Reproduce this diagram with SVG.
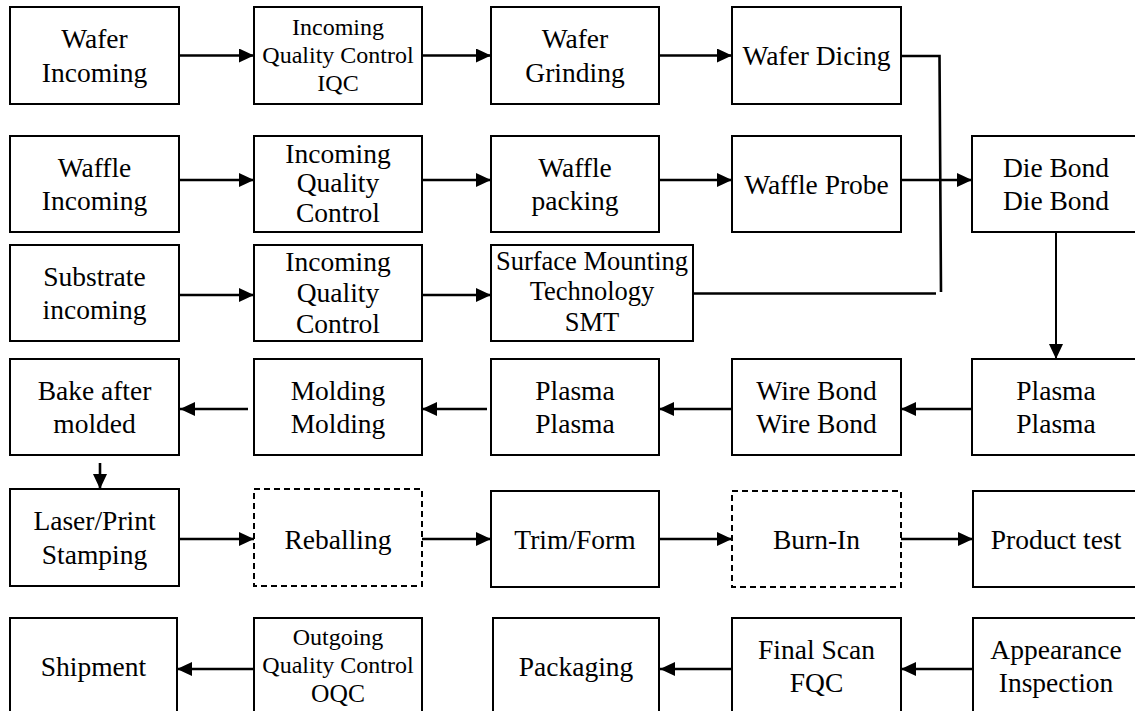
<svg xmlns="http://www.w3.org/2000/svg" width="1135" height="711" viewBox="0 0 1135 711">
  <style>
    .box { fill: #ffffff; stroke: #000000; stroke-width: 2; }
    .dash { stroke-dasharray: 6 4; }
    .lbl { font-family: "Liberation Serif", "Times New Roman", serif; font-size: 27.5px; fill: #000000; text-anchor: middle; }
    .sm { font-size: 24px; }
    .conn { fill: none; stroke: #000000; stroke-width: 2.6; }
    .thin { stroke-width: 2; }
  </style>
  <defs>
    <marker id="arrow" markerUnits="userSpaceOnUse" markerWidth="16" markerHeight="16" refX="15" refY="7" orient="auto">
      <path d="M0,0 L15,7 L0,14 Z" fill="#000000"/>
    </marker>
  </defs>
  <rect width="1135" height="711" fill="#ffffff"/>

  <!-- process steps -->
  <g id="wafer-incoming"><rect class="box" x="10" y="7" width="169" height="97"/><text class="lbl" x="94.5" y="48">Wafer</text><text class="lbl" x="94.5" y="81.5">Incoming</text></g>
  <g id="iqc-wafer"><rect class="box" x="254" y="7" width="168" height="97"/><text class="lbl sm" x="338" y="35">Incoming</text><text class="lbl sm" x="338" y="63.3">Quality Control</text><text class="lbl sm" x="338" y="90.7">IQC</text></g>
  <g id="wafer-grinding"><rect class="box" x="491" y="7" width="168" height="97"/><text class="lbl" x="575" y="48">Wafer</text><text class="lbl" x="575" y="81.5">Grinding</text></g>
  <g id="wafer-dicing"><rect class="box" x="732" y="7" width="169" height="97"/><text class="lbl" x="816.5" y="65">Wafer Dicing</text></g>

  <g id="waffle-incoming"><rect class="box" x="10" y="136" width="169" height="96"/><text class="lbl" x="94.5" y="176.5">Waffle</text><text class="lbl" x="94.5" y="210">Incoming</text></g>
  <g id="iqc-waffle"><rect class="box" x="254" y="136" width="168" height="96"/><text class="lbl" x="338" y="162.5">Incoming</text><text class="lbl" x="338" y="192">Quality</text><text class="lbl" x="338" y="221.5">Control</text></g>
  <g id="waffle-packing"><rect class="box" x="491" y="136" width="168" height="96"/><text class="lbl" x="575" y="176.5">Waffle</text><text class="lbl" x="575" y="210">packing</text></g>
  <g id="waffle-probe"><rect class="box" x="732" y="136" width="169" height="96"/><text class="lbl" x="816.5" y="193.5">Waffle Probe</text></g>
  <g id="die-bond"><rect class="box" x="972" y="136" width="169" height="96"/><text class="lbl" x="1056" y="176.5">Die Bond</text><text class="lbl" x="1056" y="210">Die Bond</text></g>

  <g id="substrate-incoming"><rect class="box" x="10" y="245" width="169" height="96"/><text class="lbl" x="94.5" y="285.5">Substrate</text><text class="lbl" x="94.5" y="319">incoming</text></g>
  <g id="iqc-substrate"><rect class="box" x="254" y="245" width="168" height="96"/><text class="lbl" x="338" y="271">Incoming</text><text class="lbl" x="338" y="302">Quality</text><text class="lbl" x="338" y="333">Control</text></g>
  <g id="smt"><rect class="box" x="491" y="245" width="202" height="96"/><text class="lbl" x="592" y="270" style="font-size:26.5px">Surface Mounting</text><text class="lbl" x="592" y="300" style="font-size:26.5px">Technology</text><text class="lbl" x="592" y="330.5" style="font-size:26.5px">SMT</text></g>

  <g id="bake"><rect class="box" x="10" y="359" width="169" height="96"/><text class="lbl" x="94.5" y="399.5">Bake after</text><text class="lbl" x="94.5" y="433">molded</text></g>
  <g id="molding"><rect class="box" x="254" y="359" width="168" height="96"/><text class="lbl" x="338" y="399.5">Molding</text><text class="lbl" x="338" y="433">Molding</text></g>
  <g id="plasma-2"><rect class="box" x="491" y="359" width="168" height="96"/><text class="lbl" x="575" y="399.5">Plasma</text><text class="lbl" x="575" y="433">Plasma</text></g>
  <g id="wire-bond"><rect class="box" x="732" y="359" width="169" height="96"/><text class="lbl" x="816.5" y="399.5">Wire Bond</text><text class="lbl" x="816.5" y="433">Wire Bond</text></g>
  <g id="plasma-1"><rect class="box" x="972" y="359" width="169" height="96"/><text class="lbl" x="1056" y="399.5">Plasma</text><text class="lbl" x="1056" y="433">Plasma</text></g>

  <g id="laser-print"><rect class="box" x="10" y="489" width="169" height="97"/><text class="lbl" x="94.5" y="530">Laser/Print</text><text class="lbl" x="94.5" y="563.5">Stamping</text></g>
  <g id="reballing"><rect class="box dash" x="254" y="489" width="168" height="97"/><text class="lbl" x="338" y="548.5">Reballing</text></g>
  <g id="trim-form"><rect class="box" x="491" y="491" width="168" height="96"/><text class="lbl" x="575" y="549">Trim/Form</text></g>
  <g id="burn-in"><rect class="box dash" x="732" y="491" width="169" height="96"/><text class="lbl" x="816.5" y="549">Burn-In</text></g>
  <g id="product-test"><rect class="box" x="973" y="491" width="169" height="96"/><text class="lbl" x="1056" y="549">Product test</text></g>

  <g id="shipment"><rect class="box" x="10" y="618" width="167" height="97"/><text class="lbl" x="93.5" y="675.5">Shipment</text></g>
  <g id="oqc"><rect class="box" x="254" y="618" width="168" height="97"/><text class="lbl sm" x="338" y="645">Outgoing</text><text class="lbl sm" x="338" y="673">Quality Control</text><text class="lbl" x="338" y="701.5" style="font-size:25.5px">OQC</text></g>
  <g id="packaging"><rect class="box" x="493" y="618" width="166" height="97"/><text class="lbl" x="576" y="675.5">Packaging</text></g>
  <g id="final-scan"><rect class="box" x="732" y="618" width="169" height="97"/><text class="lbl" x="816.5" y="658.5">Final Scan</text><text class="lbl" x="816.5" y="692">FQC</text></g>
  <g id="appearance"><rect class="box" x="973" y="618" width="169" height="97"/><text class="lbl" x="1056" y="658.5">Appearance</text><text class="lbl" x="1056" y="692">Inspection</text></g>

  <!-- connectors -->
  <g id="connectors">
    <line class="conn" x1="179" y1="55.5" x2="254" y2="55.5" marker-end="url(#arrow)"/>
    <line class="conn" x1="422" y1="55.5" x2="491" y2="55.5" marker-end="url(#arrow)"/>
    <line class="conn" x1="659" y1="55.5" x2="732" y2="55.5" marker-end="url(#arrow)"/>

    <line class="conn" x1="179" y1="180" x2="254" y2="180" marker-end="url(#arrow)"/>
    <line class="conn" x1="422" y1="180" x2="491" y2="180" marker-end="url(#arrow)"/>
    <line class="conn" x1="659" y1="180" x2="732" y2="180" marker-end="url(#arrow)"/>
    <line class="conn" x1="901" y1="180" x2="972" y2="180" marker-end="url(#arrow)"/>

    <line class="conn" x1="179" y1="295" x2="254" y2="295" marker-end="url(#arrow)"/>
    <line class="conn" x1="422" y1="295" x2="491" y2="295" marker-end="url(#arrow)"/>

    <!-- dicing and SMT lines joining the die bond feed -->
    <polyline class="conn" points="901,56 939.5,56 941,292"/>
    <line class="conn" x1="693" y1="293.5" x2="936" y2="293.5"/>

    <line class="conn thin" x1="1056" y1="232" x2="1056" y2="359" marker-end="url(#arrow)"/>

    <line class="conn" x1="972" y1="409" x2="901" y2="409" marker-end="url(#arrow)"/>
    <line class="conn" x1="732" y1="409" x2="659" y2="409" marker-end="url(#arrow)"/>
    <line class="conn" x1="487" y1="409" x2="422" y2="409" marker-end="url(#arrow)"/>
    <line class="conn" x1="248" y1="409" x2="180" y2="409" marker-end="url(#arrow)"/>

    <line class="conn" x1="100" y1="463" x2="100" y2="489" marker-end="url(#arrow)"/>

    <line class="conn" x1="179" y1="539" x2="254" y2="539" marker-end="url(#arrow)"/>
    <line class="conn" x1="422" y1="539" x2="491" y2="539" marker-end="url(#arrow)"/>
    <line class="conn" x1="659" y1="539" x2="732" y2="539" marker-end="url(#arrow)"/>
    <line class="conn" x1="901" y1="539" x2="973" y2="539" marker-end="url(#arrow)"/>

    <line class="conn" x1="254" y1="669" x2="177" y2="669" marker-end="url(#arrow)"/>
    <line class="conn" x1="732" y1="669" x2="660" y2="669" marker-end="url(#arrow)"/>
    <line class="conn" x1="973" y1="669" x2="901" y2="669" marker-end="url(#arrow)"/>
  </g>
</svg>
